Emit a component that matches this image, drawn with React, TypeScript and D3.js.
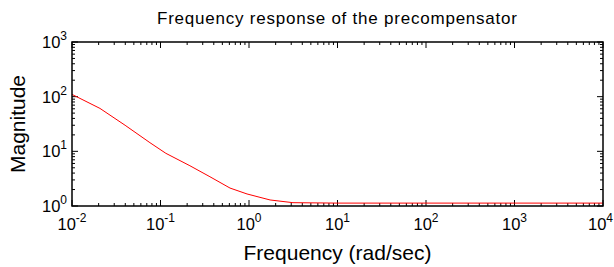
import { useRef, useEffect } from 'react';
import * as d3 from 'd3';

// values
const freq = [0.01, 0.0207, 0.0398, 0.076, 0.115, 0.215, 0.362, 0.61, 0.95, 1.73, 3.14, 10, 100, 1000, 10000];
const magnitude = [110, 61, 30, 14.4, 9.2, 5.45, 3.43, 2.13, 1.66, 1.29, 1.15, 1.13, 1.13, 1.13, 1.13];

const xExponents = [-2, -1, 0, 1, 2, 3, 4];
const yExponents = [0, 1, 2, 3];

const title = 'Frequency response of the precompensator';
const xLabel = 'Frequency (rad/sec)';
const yLabel = 'Magnitude';

const App = () => {
  const svgRef = useRef<SVGSVGElement>(null);

  useEffect(() => {
    const svg = d3.select(svgRef.current);
    svg.selectAll('*').remove();
    const margin = { top: 42, right: 11, bottom: 61, left: 72 };
    const width = 614;
    const height = 267;
    const font = 'Liberation Sans, Arial, sans-serif';

    const x = d3.scaleLog()
      .domain([1e-2, 1e4])
      .range([margin.left, width - margin.right]);

    const y = d3.scaleLog()
      .domain([1, 1000])
      .range([height - margin.bottom, margin.top]);

    const [x0, x1] = x.range();
    const [y0, y1] = y.range();

    // minor tick values (2..9 per decade)
    const minorX: number[] = [];
    for (let e = -2; e < 4; e++) for (let m = 2; m < 10; m++) minorX.push(m * Math.pow(10, e));
    const minorY: number[] = [];
    for (let e = 0; e < 3; e++) for (let m = 2; m < 10; m++) minorY.push(m * Math.pow(10, e));

    const ticks = svg.append('g').attr('stroke', '#000').attr('stroke-width', 1);
    const majorLen = 6;
    const minorLen = 3;

    xExponents.forEach(e => {
      const px = x(Math.pow(10, e));
      ticks.append('line').attr('x1', px).attr('x2', px).attr('y1', y0).attr('y2', y0 - majorLen);
      ticks.append('line').attr('x1', px).attr('x2', px).attr('y1', y1).attr('y2', y1 + majorLen);
    });
    minorX.forEach(v => {
      const px = x(v);
      ticks.append('line').attr('x1', px).attr('x2', px).attr('y1', y0).attr('y2', y0 - minorLen);
      ticks.append('line').attr('x1', px).attr('x2', px).attr('y1', y1).attr('y2', y1 + minorLen);
    });
    yExponents.forEach(e => {
      const py = y(Math.pow(10, e));
      ticks.append('line').attr('x1', x0).attr('x2', x0 + majorLen).attr('y1', py).attr('y2', py);
      ticks.append('line').attr('x1', x1).attr('x2', x1 - majorLen).attr('y1', py).attr('y2', py);
    });
    minorY.forEach(v => {
      const py = y(v);
      ticks.append('line').attr('x1', x0).attr('x2', x0 + minorLen).attr('y1', py).attr('y2', py);
      ticks.append('line').attr('x1', x1).attr('x2', x1 - minorLen).attr('y1', py).attr('y2', py);
    });

    // the curve
    const line = d3.line<number>()
      .x((_, i) => x(freq[i]))
      .y(d => y(d));

    svg.append('path')
      .datum(magnitude)
      .attr('fill', 'none')
      .attr('stroke', '#ff0000')
      .attr('stroke-width', 1)
      .attr('d', line);

    // frame
    svg.append('rect')
      .attr('x', x0)
      .attr('y', y1)
      .attr('width', x1 - x0)
      .attr('height', y0 - y1)
      .attr('fill', 'none')
      .attr('stroke', '#000')
      .attr('stroke-width', 1.5);

    // tick labels, 10 with a superscript exponent
    xExponents.forEach((e, i) => {
      const last = i === xExponents.length - 1;
      const t = svg.append('text')
        .attr('x', last ? width - 1 : x(Math.pow(10, e)))
        .attr('y', 230)
        .attr('text-anchor', last ? 'end' : 'middle')
        .attr('font-family', font)
        .attr('font-size', 16.5)
        .attr('fill', '#000');
      t.append('tspan').text('10');
      t.append('tspan').attr('dy', -8).attr('font-size', 12).text(String(e));
    });
    yExponents.forEach(e => {
      const t = svg.append('text')
        .attr('x', 67)
        .attr('y', y(Math.pow(10, e)) + 6)
        .attr('text-anchor', 'end')
        .attr('font-family', font)
        .attr('font-size', 16.5)
        .attr('fill', '#000');
      t.append('tspan').text('10');
      t.append('tspan').attr('dy', -8).attr('font-size', 12).text(String(e));
    });

    svg.append('text')
      .attr('x', 157)
      .attr('y', 24)
      .attr('font-family', font)
      .attr('font-size', 17)
      .attr('textLength', 360)
      .attr('lengthAdjust', 'spacing')
      .text(title);

    svg.append('text')
      .attr('x', (x0 + x1) / 2)
      .attr('y', 260)
      .attr('text-anchor', 'middle')
      .attr('font-family', font)
      .attr('font-size', 21)
      .text(xLabel);

    svg.append('text')
      .attr('transform', `translate(25,${(y0 + y1) / 2}) rotate(-90)`)
      .attr('text-anchor', 'middle')
      .attr('font-family', font)
      .attr('font-size', 21)
      .text(yLabel);
  }, []);

  return (
    <svg
      ref={svgRef}
      width={614}
      height={267}
      style={{ position: 'absolute', left: 0, top: 0, background: '#fff' }}
    />
  );
};

export default App;
